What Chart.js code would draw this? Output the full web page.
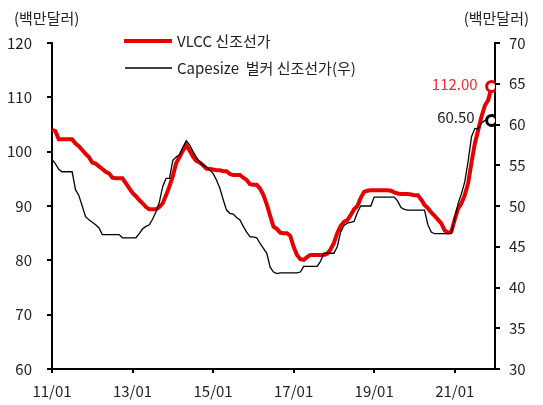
<!DOCTYPE html>
<html>
<head>
<meta charset="utf-8">
<script src="https://cdn.jsdelivr.net/npm/chart.js@4/dist/chart.umd.min.js"></script>
<style>
  html, body { margin: 0; padding: 0; background: #fff; }
  canvas { display: block; }
</style>
</head>
<body>
<canvas id="chart" width="543" height="405"></canvas>
<script>
(function () {
    'use strict';

    // ── Data (monthly, 2011/01 .. 2021/12) ──────────────────────
    const X_TICK_LABELS = ['11/01', '13/01', '15/01', '17/01', '19/01', '21/01'];
    const SERIES_NAMES  = ['VLCC 신조선가', 'Capesize  벌커 신조선가(우)'];

    // VLCC newbuilding price, left axis (US$ mn)
    const VLCC = [
        104, 103.8, 102.3, 102.3, 102.3, 102.3, 102.3, 101.5, 101, 100.3, 99.6, 99,
        98, 97.8, 97.3, 96.8, 96.3, 96, 95.2, 95.1, 95.1, 95.1, 94.2, 93.3,
        92.4, 91.8, 91.1, 90.5, 89.8, 89.4, 89.4, 89.4, 89.8, 90.5, 92, 93.6,
        95.5, 97.9, 99, 100.2, 101.2, 100.2, 99.1, 98.3, 98, 97.5, 96.9, 96.8,
        96.7, 96.6, 96.6, 96.4, 96.4, 95.9, 95.7, 95.7, 95.7, 95.2, 94.8, 94,
        93.9, 93.9, 93.2, 92, 90.3, 88.2, 86.2, 85.8, 85.1, 85, 85, 84.5,
        82.5, 81, 80.2, 80.1, 80.6, 81, 81, 81, 81, 81, 81.2, 82,
        83.2, 85, 86.3, 87.1, 87.4, 88.3, 89.4, 90, 91.5, 92.6, 92.8, 92.9,
        92.9, 92.9, 92.9, 92.9, 92.9, 92.8, 92.5, 92.3, 92.2, 92.2, 92.2, 92.1,
        92, 92, 91.2, 90.2, 89.6, 88.8, 88.2, 87.5, 86.8, 85.5, 85.1, 85.3,
        87.5, 89.5, 90.5, 92, 94.2, 98, 101.5, 104, 106.5, 108.5, 109.5, 112,
    ];

    // Capesize bulker newbuilding price, right axis (US$ mn)
    const CAPESIZE = [
        55.7, 55.2, 54.5, 54.2, 54.2, 54.2, 54.2, 52, 51.3, 50, 48.7, 48.3,
        48, 47.7, 47.3, 46.5, 46.5, 46.5, 46.5, 46.5, 46.5, 46.1, 46.1, 46.1,
        46.1, 46.1, 46.6, 47.2, 47.5, 47.7, 48.4, 49.3, 50.5, 52.4, 53.4, 53.4,
        55.6, 56, 56.3, 57.2, 58, 57.5, 56.7, 56, 55.4, 55, 54.8, 54.4,
        54, 53.2, 52.2, 50.8, 49.5, 49.1, 49, 48.6, 48.3, 47.5, 46.8, 46.2,
        46.2, 46.1, 45.4, 44.8, 44.2, 42.5, 41.9, 41.7, 41.8, 41.8, 41.8, 41.8,
        41.8, 41.8, 41.9, 42.6, 42.6, 42.6, 42.6, 42.6, 43.2, 44.2, 44.2, 44.2,
        44.2, 45, 46.8, 47.6, 47.9, 48, 48.1, 49.2, 50, 50, 50, 50,
        51.1, 51.1, 51.1, 51.1, 51.1, 51.1, 51.1, 50.6, 49.8, 49.6, 49.5, 49.5,
        49.5, 49.5, 49.5, 49.5, 47.7, 46.8, 46.6, 46.6, 46.6, 46.6, 46.6, 46.6,
        48.5, 50.3, 51.5, 53, 55.5, 58.5, 59.5, 59.5, 60.2, 60.5, 60.5, 60.5,
    ];

    // ── Style ───────────────────────────────────────────────────
    const FONT   = '"Noto Sans CJK KR", "Noto Sans", sans-serif';
    const RED    = '#e60000';
    const BLACK  = '#000000';
    const TEXT   = '#222222';

    const toPoints = arr => arr.map((v, i) => ({ x: i, y: v }));
    const lastOnly = n => ctx => (ctx.dataIndex === n - 1 ? 5 : 0);

    function axisGrid() {
        return {
            display: true,
            drawOnChartArea: false,
            drawTicks: true,
            tickLength: 5,
            color: BLACK,
            lineWidth: 2,
        };
    }

    // ── Overlay texts: unit titles, legend, end labels ──────────
    const overlay = {
        id: 'overlay',
        afterDraw(chart) {
            const c = chart.ctx;
            c.save();
            c.font = '15px ' + FONT;
            c.fillStyle = TEXT;
            c.textBaseline = 'middle';

            c.textAlign = 'left';
            c.fillText('(백만달러)', 14, 18);
            c.textAlign = 'right';
            c.fillText('(백만달러)', 529, 18);

            // legend
            c.lineCap = 'butt';
            c.strokeStyle = RED;
            c.lineWidth = 4;
            c.beginPath(); c.moveTo(124, 41); c.lineTo(172, 41); c.stroke();
            c.strokeStyle = BLACK;
            c.lineWidth = 1.3;
            c.beginPath(); c.moveTo(125, 68); c.lineTo(172, 68); c.stroke();
            c.textAlign = 'left';
            c.fillText(SERIES_NAMES[0], 177, 41);
            c.fillText(SERIES_NAMES[1], 177, 68);

            // end-point value labels
            c.textAlign = 'right';
            const m0 = chart.getDatasetMeta(0).data;
            const m1 = chart.getDatasetMeta(1).data;
            const p0 = m0[m0.length - 1], p1 = m1[m1.length - 1];
            c.fillStyle = '#e8302c';
            c.fillText(VLCC[VLCC.length - 1].toFixed(2), p0.x - 14, p0.y - 2);
            c.fillStyle = TEXT;
            c.fillText(CAPESIZE[CAPESIZE.length - 1].toFixed(2), p1.x - 17, p1.y - 3);
            c.restore();
        },
    };

    new Chart(document.getElementById('chart'), {
        type: 'line',
        data: {
            datasets: [
                {
                    label: SERIES_NAMES[0],
                    data: toPoints(VLCC),
                    yAxisID: 'y',
                    borderColor: RED,
                    borderWidth: 4,
                    pointRadius: lastOnly(VLCC.length),
                    pointBorderWidth: 3,
                    pointBorderColor: RED,
                    pointBackgroundColor: '#ffffff',
                    tension: 0,
                    order: 1,
                },
                {
                    label: SERIES_NAMES[1],
                    data: toPoints(CAPESIZE),
                    yAxisID: 'y2',
                    borderColor: BLACK,
                    borderWidth: 1.3,
                    pointRadius: lastOnly(CAPESIZE.length),
                    pointBorderWidth: 3,
                    pointBorderColor: BLACK,
                    pointBackgroundColor: '#ffffff',
                    tension: 0,
                    order: 0,
                },
            ],
        },
        options: {
            responsive: false,
            animation: false,
            layout: { padding: { top: 43, left: 0, right: 0, bottom: 0 } },
            plugins: {
                legend: { display: false },
                tooltip: { enabled: false },
            },
            scales: {
                x: {
                    type: 'linear',
                    min: 0,
                    max: 132,
                    grid: { ...axisGrid(), tickLength: 4 },
                    border: { display: true, color: BLACK, width: 2 },
                    ticks: {
                        stepSize: 24,
                        includeBounds: false,
                        autoSkip: false,
                        maxRotation: 0,
                        padding: 9,
                        color: TEXT,
                        font: { family: FONT, size: 15 },
                        callback: v => X_TICK_LABELS[v / 24] ?? '',
                    },
                    afterFit: s => { s.height = 36; },
                },
                y: {
                    position: 'left',
                    min: 60,
                    max: 120,
                    grid: axisGrid(),
                    border: { display: true, color: BLACK, width: 2 },
                    ticks: {
                        stepSize: 10,
                        padding: 15,
                        color: TEXT,
                        font: { family: FONT, size: 15 },
                    },
                    afterFit: s => { s.width = 52; },
                },
                y2: {
                    position: 'right',
                    min: 30,
                    max: 70,
                    grid: axisGrid(),
                    border: { display: true, color: BLACK, width: 2 },
                    ticks: {
                        stepSize: 5,
                        padding: 9,
                        color: TEXT,
                        font: { family: FONT, size: 15 },
                    },
                    afterFit: s => { s.width = 48; },
                },
            },
        },
        plugins: [overlay],
    });
})();
</script>
</body>
</html>
